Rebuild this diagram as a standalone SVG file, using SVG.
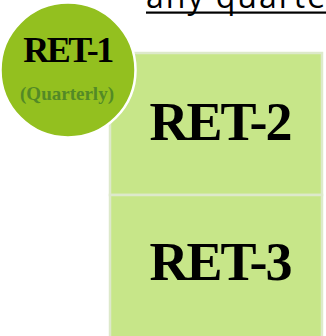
<svg xmlns="http://www.w3.org/2000/svg" width="326" height="336" viewBox="0 0 326 336">
  <style>
    .box { fill: #c7e689; stroke: #dde9cb; stroke-width: 2.5; }
    .big { font-family: "Liberation Serif", "Times New Roman", serif; font-weight: bold; font-size: 54px; letter-spacing: -2px; fill: #000; text-anchor: middle; }
    .head { font-family: "Liberation Serif", "Times New Roman", serif; font-weight: bold; font-size: 36px; letter-spacing: -2.4px; fill: #000; text-anchor: middle; }
    .sub { font-family: "Liberation Serif", "Times New Roman", serif; font-weight: bold; font-size: 19px; fill: #538a26; text-anchor: middle; }
    .note { font-family: "Open Sans", "DejaVu Sans", sans-serif; font-size: 32px; letter-spacing: 2px; fill: #000; }
  </style>

  <!-- heading fragment, underlined -->
  <text class="note" x="146" y="8">any quarte</text>
  <rect x="146" y="11.5" width="180" height="2.2" fill="#000"/>

  <!-- stacked boxes -->
  <g id="ret2">
    <rect class="box" x="110" y="53" width="212" height="142"/>
    <text class="big" x="220" y="140">RET-2</text>
  </g>
  <g id="ret3">
    <rect class="box" x="110" y="195" width="212" height="150"/>
    <text class="big" x="220" y="280">RET-3</text>
  </g>

  <!-- circular badge overlapping the boxes -->
  <g id="ret1">
    <circle cx="68" cy="70" r="67.5" fill="#93c01f" stroke="#ffffff" stroke-width="2.5"/>
    <text class="head" x="67.5" y="62">RET-1</text>
    <text class="sub" x="67" y="100">(Quarterly)</text>
  </g>

  <g id="connectors"/>
</svg>
